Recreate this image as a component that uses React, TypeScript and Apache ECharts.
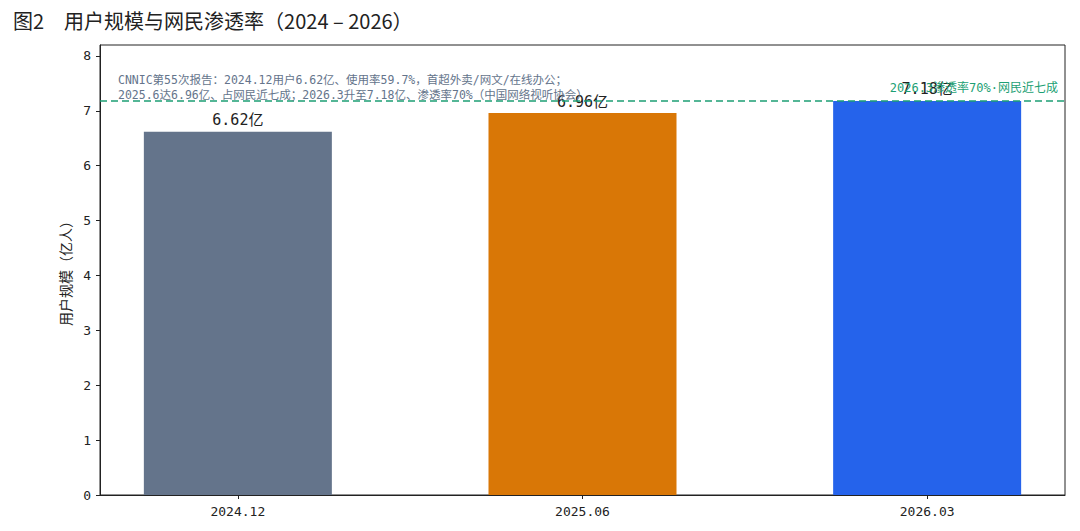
import React, { useEffect, useRef } from "react";
import * as echarts from "echarts";

const categories = ["2024.12", "2025.06", "2026.03"];
const users = [6.62, 6.96, 7.18];
const barColors = ["#64748b", "#d97706", "#2563eb"];
const yTicks = [0, 1, 2, 3, 4, 5, 6, 7, 8];
const refValue = 7.18;
const refLabel = "2026.3渗透率70%·网民近七成";
const noteLines = [
  "CNNIC第55次报告：2024.12用户6.62亿、使用率59.7%，首超外卖/网文/在线办公；",
  "2025.6达6.96亿、占网民近七成；2026.3升至7.18亿、渗透率70%（中国网络视听协会）",
];
const title = "图2　用户规模与网民渗透率（2024 – 2026）";
const yName = "用户规模（亿人）";

const FONT = "'Noto Sans CJK SC', 'Noto Sans', sans-serif";
const MONO = "'DejaVu Sans Mono', 'Noto Sans CJK SC', monospace";

export default function App() {
  const ref = useRef<HTMLDivElement>(null);
  useEffect(() => {
    if (!ref.current) return;
    const chart = echarts.init(ref.current, null, { renderer: "svg" });
    const idx = categories.map((_, i) => i);
    chart.setOption({
      animation: false,
      backgroundColor: "#ffffff",
      textStyle: { fontFamily: MONO },
      grid: {
        left: 100,
        right: 15,
        top: 45,
        bottom: 36,
        show: true,
        borderColor: "#222",
        borderWidth: 1,
        backgroundColor: "transparent",
      },
      title: {
        text: title,
        left: 8,
        top: 5,
        textStyle: { fontFamily: FONT, fontSize: 20, fontWeight: "normal", color: "#222" },
      },
      xAxis: {
        type: "value",
        min: -0.4,
        max: 2.4,
        splitLine: { show: false },
        axisLine: { show: true, onZero: false, lineStyle: { color: "#222" } },
        axisTick: { show: true, customValues: idx, length: 4, lineStyle: { color: "#222" } },
        axisLabel: {
          customValues: idx,
          formatter: (v: number) => categories[Math.round(v)] ?? "",
          fontFamily: MONO,
          fontSize: 13,
          color: "#222",
          margin: 10,
        },
      },
      yAxis: {
        type: "value",
        min: 0,
        max: 8.2,
        name: yName,
        nameLocation: "middle",
        nameGap: 26,
        nameTextStyle: { fontFamily: FONT, fontSize: 14, color: "#222" },
        splitLine: { show: false },
        axisLine: { show: true, onZero: false, lineStyle: { color: "#222" } },
        axisTick: { show: true, customValues: yTicks, length: 4, lineStyle: { color: "#222" } },
        axisLabel: {
          customValues: yTicks,
          fontFamily: MONO,
          fontSize: 13,
          color: "#222",
          margin: 9,
        },
      },
      series: [
        {
          type: "bar",
          barWidth: 188,
          data: users.map((v, i) => ({
            value: [i, v],
            itemStyle: { color: barColors[i] },
          })),
          label: {
            show: true,
            position: "top",
            distance: 4,
            formatter: (p: any) => `${users[p.dataIndex]}亿`,
            fontFamily: MONO,
            fontSize: 15,
            color: "#222",
          },
          markLine: {
            silent: true,
            symbol: "none",
            lineStyle: { type: [7, 4], color: "#1d9f74", width: 1.5 },
            label: {
              show: true,
              position: "insideEndTop",
              formatter: refLabel,
              fontFamily: MONO,
              fontSize: 12,
              color: "#1d9f74",
              distance: 7,
            },
            data: [{ yAxis: refValue }],
          },
          z: 2,
        },
      ],
      graphic: [
        {
          type: "text",
          left: 118,
          top: 72,
          z: 10,
          style: {
            text: noteLines.join("\n"),
            fontFamily: MONO,
            fontSize: 11.5,
            lineHeight: 15,
            fill: "#64748b",
          },
        },
      ],
    });
    return () => chart.dispose();
  }, []);
  return (
    <div
      ref={ref}
      style={{ position: "fixed", left: 0, top: 0, width: 1080, height: 531, background: "#fff" }}
    />
  );
}
